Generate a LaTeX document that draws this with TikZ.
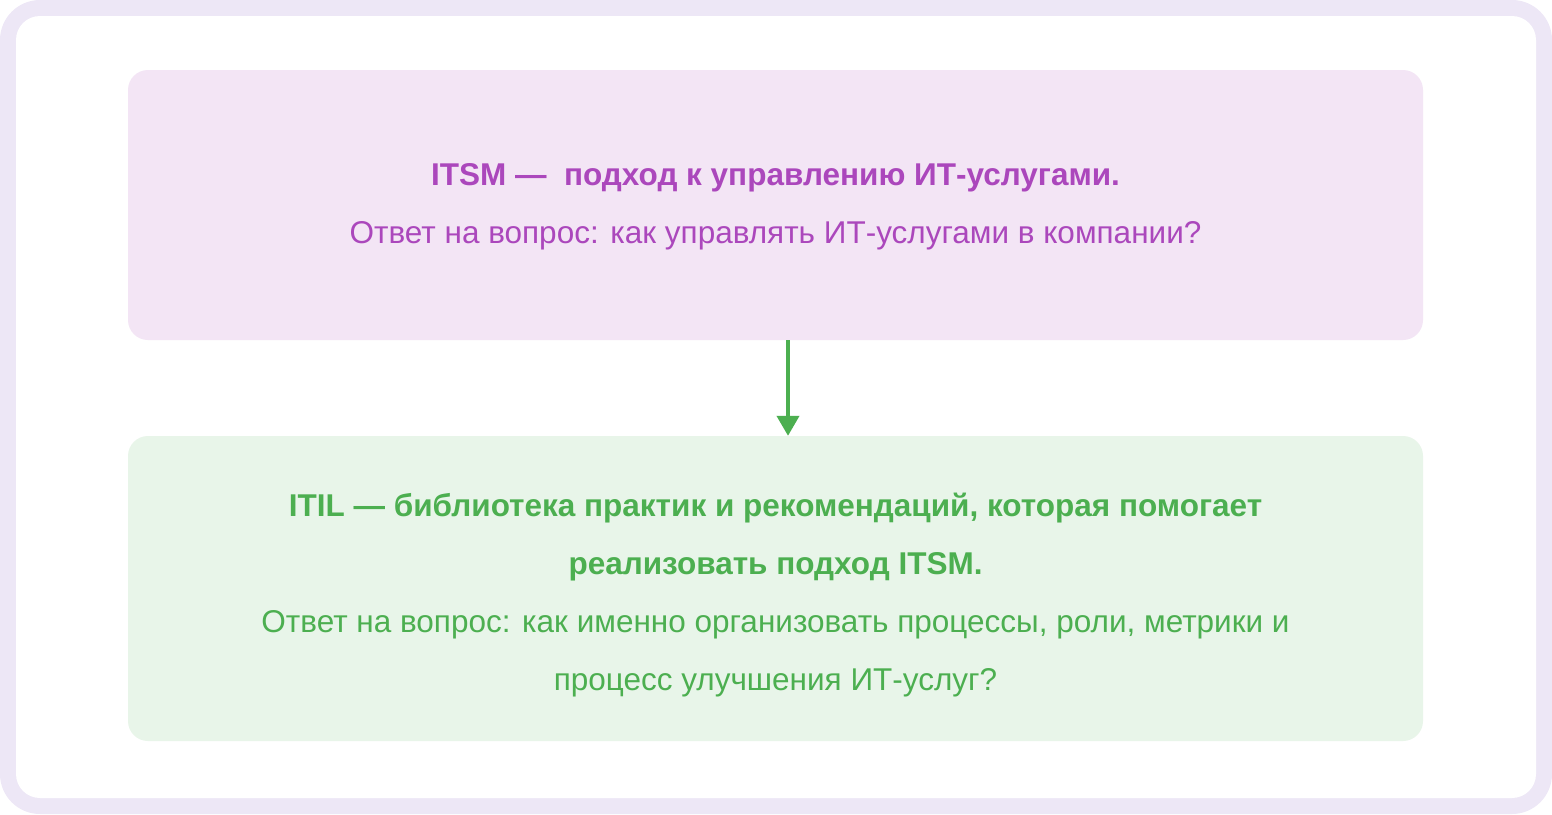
\documentclass[tikz,border=0pt]{standalone}
\usepackage{fontspec}
\setmainfont{Liberation Sans}
\usetikzlibrary{positioning, arrows.meta}
\definecolor{frameLav}{HTML}{EDE7F6}
\definecolor{pinkBox}{HTML}{F3E5F5}
\definecolor{greenBox}{HTML}{E8F5E9}
\definecolor{purpleText}{HTML}{AB47BC}
\definecolor{greenText}{HTML}{4CAF50}

\begin{document}
\begin{tikzpicture}[x=1pt, y=-1pt,
    box/.style={rounded corners=20pt, minimum width=1295pt},
    boxtext/.style={align=center, font=\fontsize{31.5}{58}\selectfont}]
    \useasboundingbox (0,0) rectangle (1552,814);
    % Outer frame
    \fill[frameLav, rounded corners=40pt] (0,0) rectangle (1552,814);
    \fill[white, rounded corners=24pt] (16,16) rectangle (1536,798);

    % ITSM box
    \node[box, fill=pinkBox, minimum height=270pt] (itsm) at (775.5,205) {};
    \node[boxtext, text=purpleText] (itsmText) at ([yshift=-2pt]itsm.center)
        {\textbf{ITSM —\ \ подход к управлению ИТ-услугами.}\\
         Ответ на вопрос: как управлять ИТ-услугами в компании?};

    % ITIL box
    \node[box, fill=greenBox, minimum height=305pt] (itil) at (775.5,588.5) {};
    \node[boxtext, text=greenText] (itilText) at ([yshift=-7pt]itil.center)
        {\textbf{ITIL — библиотека практик и рекомендаций, которая помогает}\\
         \textbf{реализовать подход ITSM.}\\
         Ответ на вопрос: как именно организовать процессы, роли, метрики и\\
         процесс улучшения ИТ-услуг?};

    \draw[greenText, line width=4pt, -{Triangle[width=22pt, length=20pt]}]
        ([xshift=12.5pt]itsm.south) -- ([xshift=12.5pt]itil.north);
\end{tikzpicture}
\end{document}
